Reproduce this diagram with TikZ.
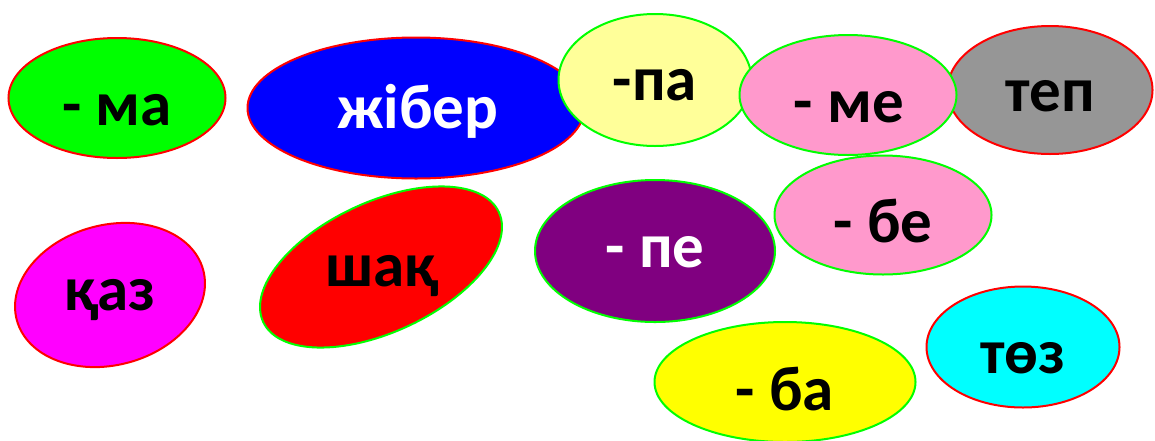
\documentclass[tikz,border=0pt]{standalone}
\usepackage{fontspec}
\setmainfont{Carlito}
\usetikzlibrary{shapes.geometric}
\definecolor{cgreen}{HTML}{00FF00}
\definecolor{cred}{HTML}{FF0000}
\definecolor{cblue}{HTML}{0000FF}
\definecolor{cpaleyellow}{HTML}{FFFF99}
\definecolor{cpink}{HTML}{FF99CC}
\definecolor{cgray}{HTML}{969696}
\definecolor{cmagenta}{HTML}{FF00FF}
\definecolor{cpurple}{HTML}{800080}
\definecolor{cyellow}{HTML}{FFFF00}
\definecolor{ccyan}{HTML}{00FFFF}
\begin{document}
\begin{tikzpicture}[x=1pt,y=-1pt,
  blob/.style={ellipse, draw=#1, line width=2pt, inner sep=0pt, outer sep=0pt},
  blob/.default=cred,
  word/.style={font=\fontsize{63}{69}\selectfont\bfseries, inner sep=0pt, text=#1},
  word/.default=black]
\useasboundingbox (0,0) rectangle (1155,440);
% ellipses
\node[blob=cred, fill=cgreen, minimum width=217pt, minimum height=120pt] (ma) at (117,98) {};
\node[blob=cred, fill=cblue, minimum width=337pt, minimum height=141pt] (jiber) at (416,108) {};
\node[blob=cgreen, fill=cpaleyellow, minimum width=193pt, minimum height=132pt] (pa) at (655,80) {};
\node[blob=cred, fill=cgray, minimum width=205pt, minimum height=128pt] (tep) at (1050,90) {};
\node[blob=cgreen, fill=cpink, minimum width=217pt, minimum height=120pt] (me) at (848,95) {};
\node[blob=cred, fill=cmagenta, minimum width=193pt, minimum height=140pt, rotate=15] (qaz) at (110,295) {};
\node[blob=cgreen, fill=cred, minimum width=260pt, minimum height=130pt, rotate=25] (shaq) at (381,267) {};
\node[blob=cgreen, fill=cpurple, minimum width=240pt, minimum height=142pt] (pe) at (655,251) {};
\node[blob=cgreen, fill=cpink, minimum width=217pt, minimum height=119pt] (be) at (883,215) {};
\node[blob=cgreen, fill=cyellow, minimum width=261pt, minimum height=120pt] (ba) at (785,382) {};
\node[blob=cred, fill=ccyan, minimum width=193pt, minimum height=121pt] (toz) at (1023,347) {};
% words
\node[word] (tma) at (117,110) {- ма};
\node[word=white] (tjiber) at (418,111) {жібер};
\node[word] (tpa) at (655,85) {-па};
\node[word] (tme) at (849,107) {- ме};
\node[word] (ttep) at (1050,96) {теп};
\node[word] (tqaz) at (110,300) {қаз};
\node[word] (tshaq) at (382,276) {шақ};
\node[word=white] (tpe) at (655,252) {- пе};
\node[word] (tbe) at (883,221) {- бе};
\node[word] (tba) at (785,389) {- ба};
\node[word] (ttoz) at (1023,358) {төз};
\end{tikzpicture}
\end{document}
